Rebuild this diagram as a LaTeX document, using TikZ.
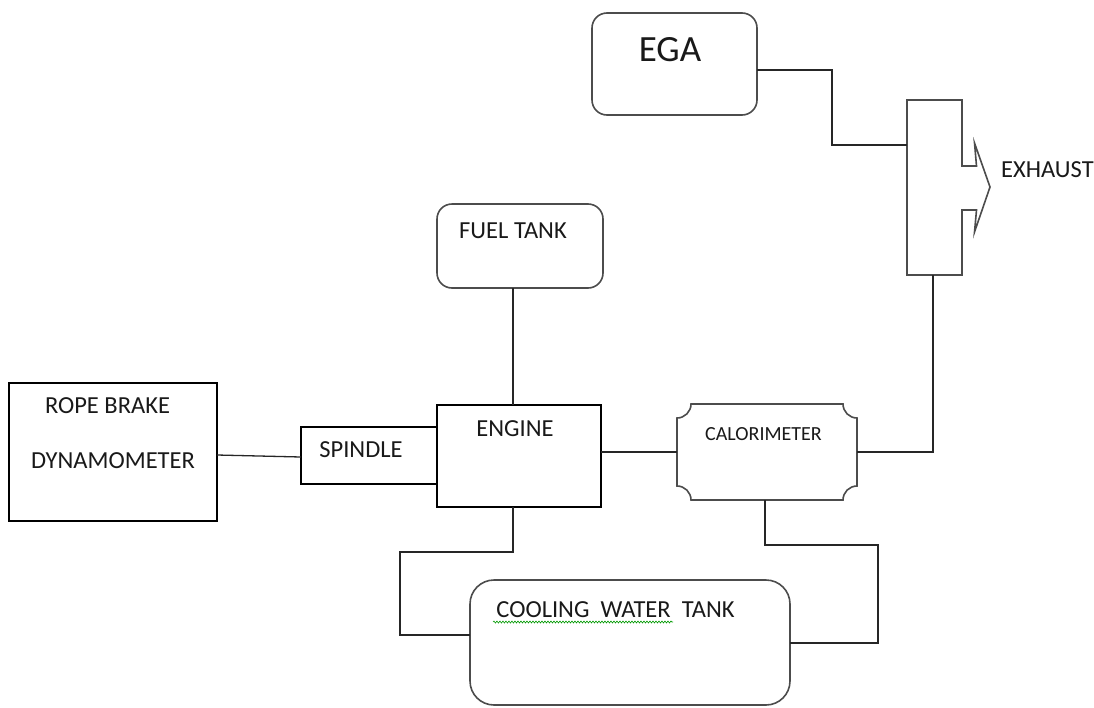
\documentclass[tikz,border=0pt]{standalone}
\usepackage{fontspec}
\setmainfont{Carlito}
\usetikzlibrary{calc,decorations.pathmorphing}
\begin{document}
\begin{tikzpicture}[x=1pt,y=-1pt,
  holder/.style={inner sep=0pt, outer sep=0pt},
  sqbox/.style={holder, draw=black, line width=1.5pt},
  rbox/.style={holder, draw=black!70, line width=1.6pt, rounded corners=15pt},
  shapeline/.style={draw=black!70, line width=1.6pt, line join=miter},
  wire/.style={draw=black!85, line width=1.3pt},
  lbl/.style={inner sep=0pt, anchor=base, text=black!90, font=\fontsize{24.5}{29}\selectfont},
  small/.style={lbl, font=\fontsize{20}{24}\selectfont},
  big/.style={lbl, font=\fontsize{37}{44}\selectfont}]
\useasboundingbox (0,0) rectangle (1094,707);
\fill[white] (0,0) rectangle (1094,707);

% boxes
\node[rbox, minimum width=165pt, minimum height=102pt] (ega) at (674.5,64) {};
\node[rbox, minimum width=166pt, minimum height=84pt] (fuel) at (520,246) {};
\node[sqbox, minimum width=208pt, minimum height=138pt] (rope) at (113,452) {};
\node[sqbox, minimum width=136pt, minimum height=57pt] (spin) at (369,455.5) {};
\node[sqbox, minimum width=164pt, minimum height=102pt] (eng) at (519,456) {};
\node[holder, minimum width=180pt, minimum height=96pt] (cal) at (767,452) {};
\node[rbox, rounded corners=24pt, minimum width=320pt, minimum height=125pt] (cool) at (630,642.5) {};
\node[holder, minimum width=55pt, minimum height=175pt] (exh) at (934.5,187.5) {};

% calorimeter outline (concave corners)
\draw[shapeline]
  ($(cal.north west)+(14,0)$) -- ($(cal.north east)+(-14,0)$)
  .. controls ($(cal.north east)+(-14,7.7)$) and ($(cal.north east)+(-7.7,14)$) .. ($(cal.north east)+(0,14)$)
  -- ($(cal.south east)+(0,-14)$)
  .. controls ($(cal.south east)+(-7.7,-14)$) and ($(cal.south east)+(-14,-7.7)$) .. ($(cal.south east)+(-14,0)$)
  -- ($(cal.south west)+(14,0)$)
  .. controls ($(cal.south west)+(14,-7.7)$) and ($(cal.south west)+(7.7,-14)$) .. ($(cal.south west)+(0,-14)$)
  -- ($(cal.north west)+(0,14)$)
  .. controls ($(cal.north west)+(7.7,14)$) and ($(cal.north west)+(14,7.7)$) .. cycle;

% exhaust outline
\draw[shapeline]
  (exh.east |- 0,166) -- (exh.north east) -- (exh.north west) -- (exh.south west)
  -- (exh.south east) -- (exh.east |- 0,210) -- (976.5,210) -- (974.5,232)
  -- (990,187) -- (974.5,143) -- (976.5,166) -- cycle;

% labels
\node[big] (egaT) at (670,61) {EGA};
\node[lbl] (fuelT) at (513,238) {FUEL TANK};
\node[lbl] (ropeT1) at (107.5,413) {ROPE BRAKE};
\node[lbl] (ropeT2) at (113,468) {DYNAMOMETER};
\node[lbl] (spinT) at (361,457) {SPINDLE};
\node[lbl] (engT) at (515,436) {ENGINE};
\node[small] (calT) at (763.5,440) {CALORIMETER};
\node[lbl] (coolT) at (615.5,617) {COOLING\ \ WATER\ \ TANK};
\node[lbl, anchor=base west] (exT) at (1001,177) {EXHAUST};
\draw[green!60!black, line width=0.6pt, decorate, decoration={snake, amplitude=1pt, segment length=3pt}] (493,622) -- (673,622);

% connectors
\draw[wire] (ega.east |- 0,70) -| (832,145) -- (exh.west |- 0,145);
\draw[wire] (fuel.south -| 513,0) -- (eng.north -| 513,0);
\draw[wire] (rope.east |- 0,455) -- (spin.west |- 0,457);
\draw[wire] (eng.east |- 0,452) -- (cal.west |- 0,452);
\draw[wire] (cal.east |- 0,452) -| (exh.south -| 933,0);
\draw[wire] (cal.south -| 765,0) |- (878,545) |- (cool.east |- 0,643);
\draw[wire] (eng.south -| 513,0) |- (400,552) |- (cool.west |- 0,635);
\end{tikzpicture}
\end{document}
